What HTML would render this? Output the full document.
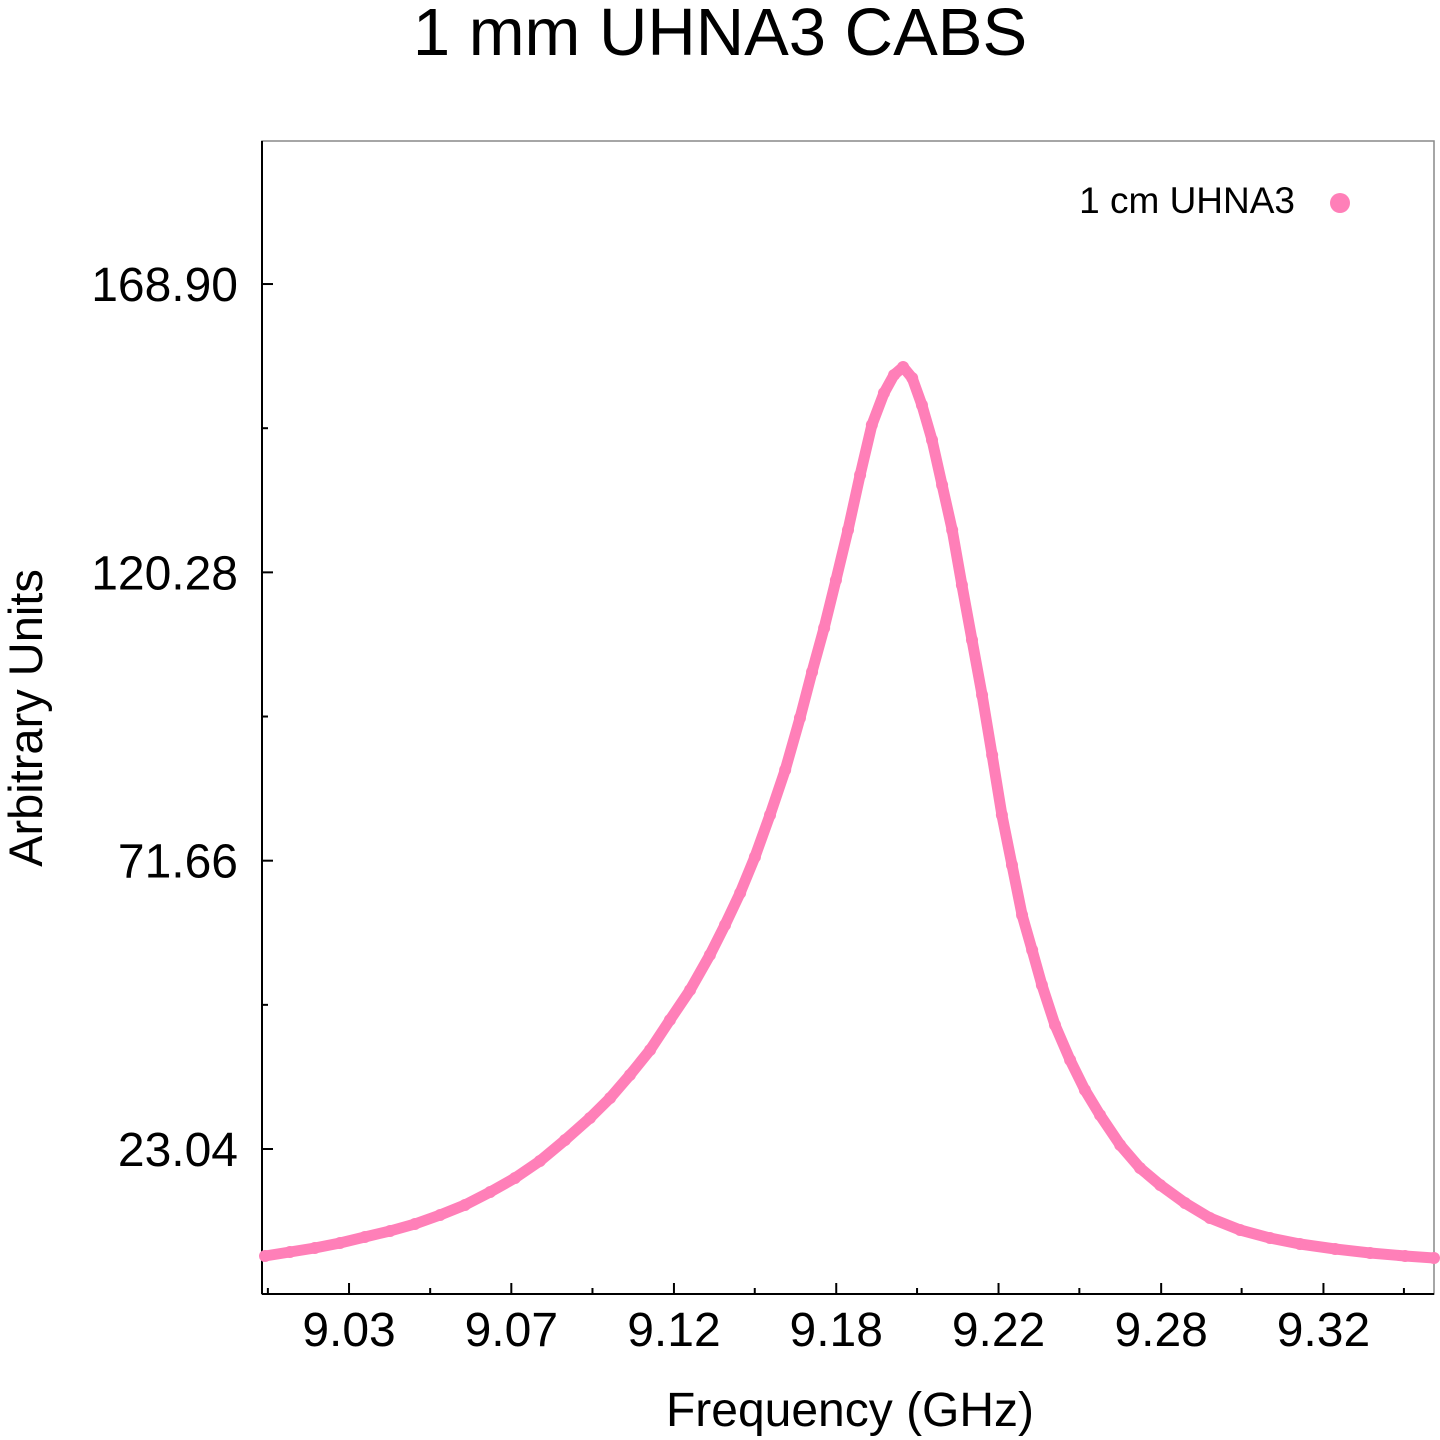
<!DOCTYPE html>
<html><head><meta charset="utf-8"><style>
body{margin:0;background:#fff;}
svg{display:block;font-family:"Liberation Sans",sans-serif;}
</style></head><body>
<svg id="chart" width="1440" height="1440" viewBox="0 0 1440 1440">
<text x="720" y="55" font-size="67" text-anchor="middle">1 mm UHNA3 CABS</text>
<text x="850" y="1426" font-size="48" text-anchor="middle">Frequency (GHz)</text>
<text transform="translate(42,718) rotate(-90)" font-size="47" text-anchor="middle">Arbitrary Units</text>
<rect x="262" y="141" width="1172" height="1153" fill="none" stroke="#888" stroke-width="1.5"/>
<line x1="262" y1="141" x2="262" y2="1294" stroke="#000" stroke-width="2"/>
<line x1="262" y1="1294" x2="1434" y2="1294" stroke="#000" stroke-width="2"/>
<g id="ticks"></g>
<g id="series"></g>
<g>
<text x="1295" y="213" font-size="37" text-anchor="end">1 cm UHNA3</text>
<circle cx="1340" cy="203" r="10" fill="#ff7fb8"/>
</g>
</svg>
<script>
const xTickValues=[9.0300,9.0783,9.1267,9.1750,9.2233,9.2717,9.3200];
const xTickLabels=["9.03","9.07","9.12","9.18","9.22","9.28","9.32"];
const yTickValues=[23.04,71.66,120.28,168.90];
const yTickLabels=["23.04","71.66","120.28","168.90"];
const freq=[9.0050,9.0124,9.0198,9.0273,9.0347,9.0422,9.0496,9.0571,9.0645,9.0720,9.0794,9.0868,9.0943,9.1017,9.1077,9.1136,9.1196,9.1255,9.1315,9.1374,9.1419,9.1464,9.1508,9.1553,9.1598,9.1642,9.1678,9.1714,9.1749,9.1785,9.1821,9.1856,9.1892,9.1922,9.1949,9.1976,9.2005,9.2035,9.2065,9.2095,9.2124,9.2154,9.2184,9.2214,9.2243,9.2273,9.2303,9.2333,9.2362,9.2401,9.2446,9.2490,9.2535,9.2595,9.2654,9.2714,9.2788,9.2862,9.2952,9.3041,9.3130,9.3235,9.3339,9.3443,9.3529];
const amplitude=[5.00,5.67,6.35,7.19,8.20,9.21,10.39,11.91,13.60,15.79,18.15,21.02,24.56,28.27,31.64,35.52,39.74,44.79,49.85,55.76,60.82,66.21,72.28,79.37,86.95,95.72,103.48,110.90,118.96,127.43,136.70,145.14,150.53,153.57,154.91,153.06,148.51,142.61,135.02,127.43,118.15,108.88,99.60,89.48,79.37,70.93,62.50,56.60,50.70,43.95,38.05,32.99,28.77,23.71,19.84,16.97,13.93,11.40,9.38,8.03,7.02,6.18,5.50,5.00,4.66];
const NS="http://www.w3.org/2000/svg";
const X0=262,X1=1434,Y0=1294,Y1=141;
const fMin=9.0041,fMax=9.3529,vMin=-1.41,vMax=193.02;
function sx(f){return X0+(f-fMin)/(fMax-fMin)*(X1-X0);}
function sy(v){return Y0-(v-vMin)/(vMax-vMin)*(Y0-Y1);}
function mk(tag,attrs,parent){const e=document.createElementNS(NS,tag);for(const k in attrs)e.setAttribute(k,attrs[k]);parent.appendChild(e);return e;}
const ticks=document.getElementById('ticks');
xTickValues.forEach((v,i)=>{
  const x=sx(v);
  const t=mk('line',{x1:x,y1:Y0,x2:x,y2:Y0-11,stroke:'#000','stroke-width':2},ticks);
  
  
  const l=mk('text',{x:x,y:1346,'font-size':48,'text-anchor':'middle'},ticks);
  l.textContent=xTickLabels[i];
  
  
});
const xstep=xTickValues[1]-xTickValues[0];
for(let v=xTickValues[0]-xstep/2;v<fMax;v+=xstep){
  if(v<fMin)continue;
  const x=sx(v);
  const m=mk('line',{x1:x,y1:Y0,x2:x,y2:Y0-6,stroke:'#000','stroke-width':2},ticks);
  
  
}
yTickValues.forEach((v,i)=>{
  const y=sy(v);
  const t=mk('line',{x1:X0,y1:y,x2:X0+11,y2:y,stroke:'#000','stroke-width':2},ticks);
  
  
  const l=mk('text',{x:238,y:y+17,'font-size':48,'text-anchor':'end'},ticks);
  l.textContent=yTickLabels[i];
  
  
});
const ystep=yTickValues[1]-yTickValues[0];
for(let v=yTickValues[0]+ystep/2;v<vMax;v+=ystep){
  const y=sy(v);
  const m=mk('line',{x1:X0,y1:y,x2:X0+6,y2:y,stroke:'#000','stroke-width':2},ticks);
  
  
}
const series=document.getElementById('series');
const pts=freq.map((f,i)=>sx(f).toFixed(1)+','+sy(amplitude[i]).toFixed(1)).join(' ');
const pl=mk('polyline',{points:pts,fill:'none',stroke:'#ff7fb8','stroke-width':11,'stroke-linejoin':'round','stroke-linecap':'round'},series);


freq.forEach((f,i)=>{
  const c=mk('circle',{cx:sx(f),cy:sy(amplitude[i]),r:6,fill:'#ff7fb8'},series);
  
  
});
</script>
</body></html>
